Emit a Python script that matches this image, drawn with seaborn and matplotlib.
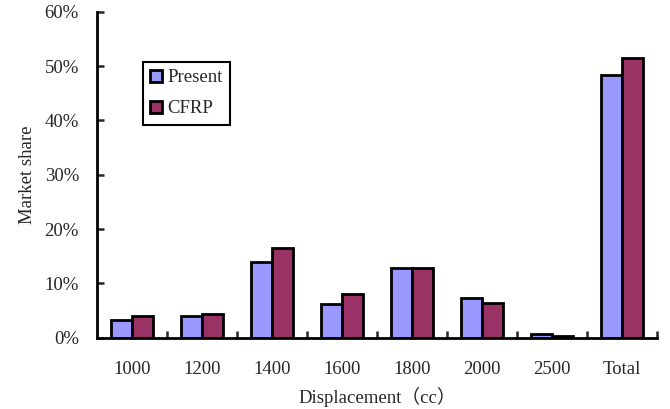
import matplotlib
matplotlib.use("Agg")
import matplotlib.pyplot as plt
from matplotlib.ticker import FixedLocator, PercentFormatter
import seaborn as sns
import pandas as pd

categories = ["1000", "1200", "1400", "1600", "1800", "2000", "2500", "Total"]
present = [3.3, 4.0, 14.0, 6.2, 12.9, 7.4, 0.7, 48.3]
cfrp = [4.0, 4.4, 16.6, 8.1, 12.9, 6.3, 0.35, 51.5]
series_names = ["Present", "CFRP"]
palette = {"Present": "#9999FF", "CFRP": "#993366"}

df = pd.DataFrame({
    "Displacement": categories * 2,
    "Share": present + cfrp,
    "Series": [series_names[0]] * len(categories) + [series_names[1]] * len(categories),
})

sns.set_style("white")
plt.rcParams["font.family"] = ["Liberation Serif", "Noto Sans CJK SC"]
FS = 13.5
plt.rcParams["font.size"] = FS

fig = plt.figure(figsize=(6.7, 4.09), dpi=100)
ax = fig.add_axes([0.1448, 0.1743, 0.8358, 0.7971])

sns.barplot(data=df, x="Displacement", y="Share", hue="Series", order=categories,
            hue_order=series_names, palette=palette, width=0.6, saturation=1,
            edgecolor="black", linewidth=2, ax=ax, legend=True)

ax.set_ylim(0, 60)
ax.set_xlim(-0.5, len(categories) - 0.5)
ax.yaxis.set_major_locator(FixedLocator(range(0, 61, 10)))
ax.yaxis.set_major_formatter(PercentFormatter(decimals=0))
ax.tick_params(axis="y", direction="in", length=5, width=1.8, pad=13,
               labelsize=FS, left=True)
ax.tick_params(axis="x", which="major", length=0, pad=17, labelsize=FS)
ax.xaxis.set_minor_locator(FixedLocator([i + 0.5 for i in range(len(categories))]))
ax.tick_params(axis="x", which="minor", direction="in", length=5, width=1.8, bottom=True)

for side in ["top", "right"]:
    ax.spines[side].set_visible(False)
for side in ["left", "bottom"]:
    ax.spines[side].set_color("black")
    ax.spines[side].set_linewidth(2)

ax.set_ylabel("Market share", fontsize=FS, labelpad=6)
ax.set_xlabel("Displacement（cc）", fontsize=FS, labelpad=6)

leg = ax.legend(loc="upper left", bbox_to_anchor=(0.082, 0.846), borderaxespad=0,
                fancybox=False, edgecolor="black", framealpha=1, fontsize=FS,
                handlelength=0.6, handleheight=0.6, handletextpad=0.3,
                labelspacing=0.75, borderpad=0.4)
leg.get_frame().set_linewidth(1.5)

fig.savefig("out.png", dpi=100)
